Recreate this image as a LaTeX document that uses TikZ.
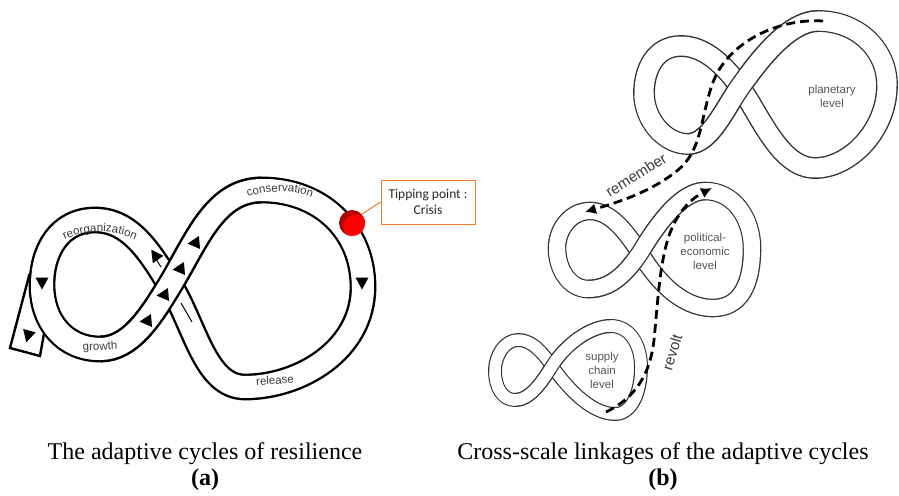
\documentclass[tikz,border=0pt]{standalone}
\usepackage{fontspec}
\setmainfont{Liberation Serif}
\newfontfamily\arialf{Liberation Sans}
\newfontfamily\calib{Carlito}
\usetikzlibrary{decorations.text,arrows.meta}
\definecolor{labgray}{HTML}{3C3C3C}
\definecolor{lvlgray}{HTML}{555555}
\definecolor{loopgray}{HTML}{333333}
\definecolor{calloutor}{HTML}{ED7D31}
\definecolor{darkredc}{HTML}{B00000}
\definecolor{brightredc}{HTML}{FF0000}
\newcommand\labfont{\arialf\fontsize{11.5}{12}\selectfont\color{labgray}}
\newcommand\ftri[3]{\fill[shift={(#1,#2)}, rotate=#3] (-6.5,0) -- (5.5,-6.5) -- (5.5,6.5) -- cycle;}
\tikzset{
  bandA/.style={draw=black, line width=2.4pt, double=white, double distance=22pt, line join=round},
  overAk/.style={draw=black, line width=26.8pt},
  overAw/.style={draw=white, line width=22pt},
  bandP/.style={draw=loopgray, line width=1.4pt, double=white, double distance=19pt, line join=round},
  overPk/.style={draw=loopgray, line width=21.8pt},
  overPw/.style={draw=white, line width=19pt},
  bandE/.style={draw=loopgray, line width=1.3pt, double=white, double distance=16pt, line join=round},
  overEk/.style={draw=loopgray, line width=18.6pt},
  overEw/.style={draw=white, line width=16pt},
  bandS/.style={draw=loopgray, line width=1.2pt, double=white, double distance=11.5pt, line join=round},
  overSk/.style={draw=loopgray, line width=13.9pt},
  overSw/.style={draw=white, line width=11.5pt},
  dasharrow/.style={line width=2.8pt, dash pattern=on 9pt off 5pt, -{Latex[length=11pt,width=11pt]}},
  lab/.style={font=\arialf\fontsize{11.5}{12}\selectfont, text=labgray, inner sep=0pt},
  bigt/.style={font=\arialf\fontsize{15}{16}\selectfont, text=labgray, inner sep=0pt},
  lvl/.style={font=\arialf\fontsize{11.5}{14}\selectfont, text=lvlgray, align=center, inner sep=0pt},
  captext/.style={font=\fontsize{24}{26}\selectfont, anchor=base, inner sep=0pt},
  captextb/.style={font=\fontsize{24}{26}\selectfont\bfseries, anchor=base, inner sep=0pt},
}
\begin{document}
\begin{tikzpicture}[x=1pt,y=-1pt]
\useasboundingbox (0,0) rectangle (899,495);

% ================= (a) =================
% tail box
\draw[line width=2.4pt, fill=white, line join=miter] (29,276) -- (10,348) -- (40,356) -- (50,300) -- cycle;
% full figure-eight band
\draw[bandA] (170,285) .. controls (197,240) and (215,190) .. (262,190)
  .. controls (320,190) and (363,230) .. (363,287)
  .. controls (363,350) and (300,387) .. (245,387)
  .. controls (205,387) and (195,325) .. (170,285)
  .. controls (150,252) and (130,220) .. (95,220)
  .. controls (60,220) and (42,250) .. (42,285)
  .. controls (42,322) and (65,349) .. (100,349)
  .. controls (130,349) and (150,318) .. (170,285);
% over strand (growth -> conservation)
\draw[overAk] (100,349) .. controls (130,349) and (150,318) .. (170,285)
  .. controls (197,240) and (215,190) .. (262,190);
\draw[overAw] (42,285) .. controls (42,322) and (65,349) .. (100,349)
  .. controls (130,349) and (150,318) .. (170,285)
  .. controls (197,240) and (215,190) .. (262,190)
  .. controls (320,190) and (363,230) .. (363,287);
% thin lines
\draw[line width=1pt] (156,259) -- (161,267);
\draw[line width=1pt] (181,303) -- (192,322);
% triangles
\ftri{42}{283}{90}
\ftri{28}{336}{75}
\ftri{362}{283}{90}
\ftri{146}{321}{5}
\ftri{163}{295}{5}
\ftri{179}{269}{5}
\ftri{194}{243}{5}
\ftri{155}{255}{-55}
% labels
\path[decorate, decoration={text along path, text={|\labfont|reorganization}, text align=center}]
  (58,243) .. controls (85,228) and (115,228) .. (142,243);
\path[decorate, decoration={text along path, text={|\labfont|conservation}, text align=center}]
  (240,200) .. controls (265,189) and (295,189) .. (320,200);
\node[lab, rotate=3] (lgrowth) at (100,347) {growth};
\node[lab, rotate=4] (lrelease) at (275,380) {release};
% crisis point
\coordinate (crisis) at (352,223);
\fill[darkredc] (crisis) circle (13);
\begin{scope}
  \clip (crisis) circle (13);
  \fill[brightredc] (355.5,226.5) circle (12);
\end{scope}
\coordinate (tipend) at (362,214);
\node[draw=calloutor, line width=1pt, minimum width=94pt, minimum height=44pt, inner sep=0pt,
      font=\calib\fontsize{13.5}{15.5}\selectfont, align=center, text=black!85] (callout) at (428,202) {Tipping point :\\Crisis};
\draw[calloutor, line width=1pt] (callout.west) -- (tipend);

% ================= (b) =================
% planetary
\draw[bandP] (740,87) .. controls (757,63) and (788,21) .. (818,21)
  .. controls (858,21) and (887,50) .. (887,85)
  .. controls (887,130) and (850,168) .. (815,168)
  .. controls (780,168) and (760,115) .. (740,87)
  .. controls (725,66) and (705,46) .. (681,46)
  .. controls (655,46) and (644,70) .. (644,93)
  .. controls (644,120) and (665,144) .. (688,144)
  .. controls (710,144) and (725,108) .. (740,87);
\draw[overPk] (688,144) .. controls (710,144) and (725,108) .. (740,87)
  .. controls (757,63) and (788,21) .. (818,21);
\draw[overPw] (644,93) .. controls (644,120) and (665,144) .. (688,144)
  .. controls (710,144) and (725,108) .. (740,87)
  .. controls (757,63) and (788,21) .. (818,21)
  .. controls (858,21) and (887,50) .. (887,85);
% political-economic
\draw[bandE] (640,253) .. controls (655,228) and (680,191) .. (705,191)
  .. controls (735,191) and (752,220) .. (752,248)
  .. controls (752,285) and (740,308) .. (713,308)
  .. controls (680,308) and (655,278) .. (640,253)
  .. controls (625,230) and (610,211) .. (590,211)
  .. controls (570,211) and (557,230) .. (557,248)
  .. controls (557,270) and (570,289) .. (588,289)
  .. controls (610,289) and (625,275) .. (640,253);
\draw[overEk] (588,289) .. controls (610,289) and (625,275) .. (640,253)
  .. controls (655,228) and (680,191) .. (705,191);
\draw[overEw] (557,248) .. controls (557,270) and (570,289) .. (588,289)
  .. controls (610,289) and (625,275) .. (640,253)
  .. controls (655,228) and (680,191) .. (705,191)
  .. controls (735,191) and (752,220) .. (752,248);
% supply chain
\draw[bandS] (552,366) .. controls (565,345) and (590,326) .. (611,326)
  .. controls (630,326) and (641,345) .. (641,367)
  .. controls (641,392) and (632,414) .. (615,414)
  .. controls (590,414) and (565,385) .. (552,366)
  .. controls (542,352) and (532,340) .. (518,340)
  .. controls (505,340) and (495,355) .. (495,371)
  .. controls (495,388) and (503,400) .. (515,400)
  .. controls (530,400) and (542,382) .. (552,366);
\draw[overSk] (515,400) .. controls (530,400) and (542,382) .. (552,366)
  .. controls (565,345) and (590,326) .. (611,326);
\draw[overSw] (495,371) .. controls (495,388) and (503,400) .. (515,400)
  .. controls (530,400) and (542,382) .. (552,366)
  .. controls (565,345) and (590,326) .. (611,326)
  .. controls (630,326) and (641,345) .. (641,367);
% level labels
\node[lvl] (lplan) at (832,96) {planetary\\level};
\node[lvl] (lpol) at (705,251) {political-\\economic\\level};
\node[lvl] (lsup) at (602,370) {supply\\chain\\level};
% dashed arrows
\coordinate (remS) at (823,21);
\coordinate (remE) at (585,212);
\draw[dasharrow] (remS) .. controls (775,18) and (725,45) .. (712,85)
  .. controls (700,120) and (702,150) .. (678,170)
  .. controls (650,193) and (615,203) .. (remE);
\coordinate (revS) at (606,412);
\coordinate (revE) at (712,188);
\draw[dasharrow] (revS) .. controls (635,398) and (650,375) .. (654,340)
  .. controls (658,300) and (660,255) .. (672,228)
  .. controls (680,210) and (692,198) .. (revE);
\node[bigt, rotate=32] (tremember) at (636,175) {remember};
\node[bigt, rotate=73] (trevolt) at (672,352) {revolt};

% ================= captions =================
\node[captext] (capa) at (205,459) {The adaptive cycles of resilience};
\node[captextb] (laba) at (205,485) {(a)};
\node[captext] (capbt) at (663,459) {Cross-scale linkages of the adaptive cycles};
\node[captextb] (labb) at (663,485) {(b)};
\end{tikzpicture}
\end{document}
